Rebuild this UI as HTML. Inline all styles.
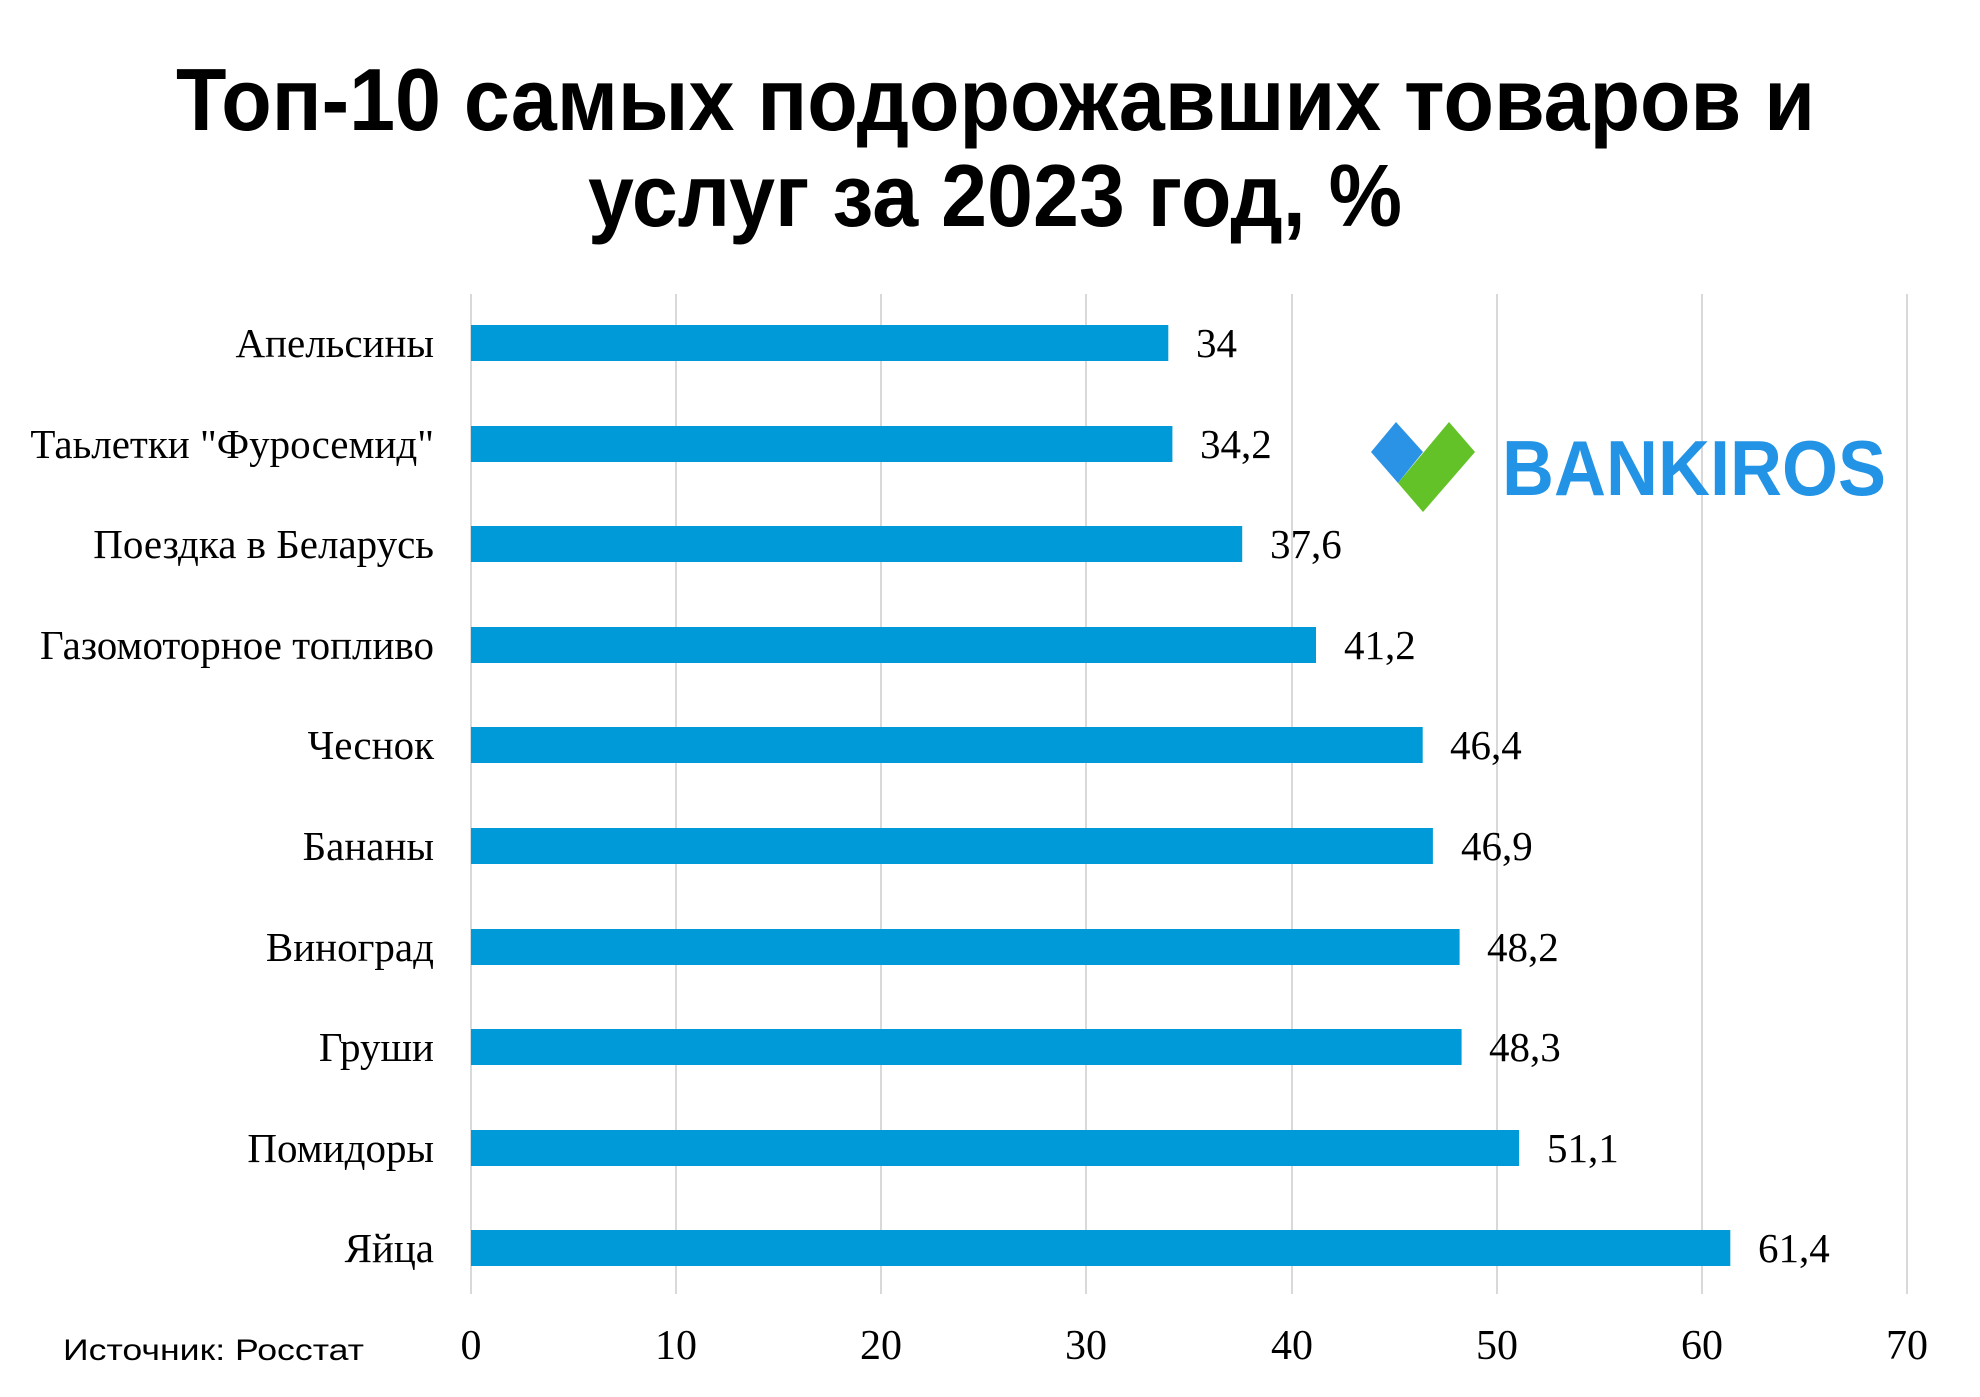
<!DOCTYPE html>
<html><head><meta charset="utf-8"><style>html,body{margin:0;padding:0;background:#fff}svg{display:block}</style></head>
<body>
<svg width="1980" height="1397" viewBox="0 0 1980 1397" xmlns="http://www.w3.org/2000/svg">
<rect width="1980" height="1397" fill="#fff"/>
<g font-family="Liberation Sans, sans-serif" font-weight="bold" font-size="88" fill="#000">
<text x="176" y="130" textLength="1639" lengthAdjust="spacingAndGlyphs">Топ-10 самых подорожавших товаров и</text>
<text x="588" y="226" textLength="814" lengthAdjust="spacingAndGlyphs">услуг за 2023 год, %</text>
</g>
<g stroke="#d9d9d9" stroke-width="2">
<line x1="471" y1="294" x2="471" y2="1294"/><line x1="676" y1="294" x2="676" y2="1294"/><line x1="881" y1="294" x2="881" y2="1294"/><line x1="1086" y1="294" x2="1086" y2="1294"/><line x1="1292" y1="294" x2="1292" y2="1294"/><line x1="1497" y1="294" x2="1497" y2="1294"/><line x1="1702" y1="294" x2="1702" y2="1294"/><line x1="1907" y1="294" x2="1907" y2="1294"/>
</g>
<g fill="#009ad8">
<rect x="471" y="325" width="697.3" height="36"/>
<rect x="471" y="426" width="701.4" height="36"/>
<rect x="471" y="526" width="771.2" height="36"/>
<rect x="471" y="627" width="845.0" height="36"/>
<rect x="471" y="727" width="951.7" height="36"/>
<rect x="471" y="828" width="961.9" height="36"/>
<rect x="471" y="929" width="988.6" height="36"/>
<rect x="471" y="1029" width="990.6" height="36"/>
<rect x="471" y="1130" width="1048.1" height="36"/>
<rect x="471" y="1230" width="1259.3" height="36"/>
</g>
<g font-family="Liberation Serif, serif" font-size="41" fill="#000" text-anchor="end">
<text x="434" y="357">Апельсины</text>
<text x="434" y="458">Таьлетки "Фуросемид"</text>
<text x="434" y="558">Поездка в Беларусь</text>
<text x="434" y="659">Газомоторное топливо</text>
<text x="434" y="759">Чеснок</text>
<text x="434" y="860">Бананы</text>
<text x="434" y="961">Виноград</text>
<text x="434" y="1061">Груши</text>
<text x="434" y="1162">Помидоры</text>
<text x="434" y="1262">Яйца</text>
</g>
<g font-family="Liberation Serif, serif" font-size="41" fill="#000">
<text x="1196" y="357">34</text>
<text x="1200" y="458">34,2</text>
<text x="1270" y="558">37,6</text>
<text x="1344" y="659">41,2</text>
<text x="1450" y="759">46,4</text>
<text x="1461" y="860">46,9</text>
<text x="1487" y="961">48,2</text>
<text x="1489" y="1061">48,3</text>
<text x="1547" y="1162">51,1</text>
<text x="1758" y="1262">61,4</text>
</g>
<g font-family="Liberation Serif, serif" font-size="42" fill="#000" text-anchor="middle">
<text x="471" y="1359">0</text><text x="676" y="1359">10</text><text x="881" y="1359">20</text><text x="1086" y="1359">30</text><text x="1292" y="1359">40</text><text x="1497" y="1359">50</text><text x="1702" y="1359">60</text><text x="1907" y="1359">70</text>
</g>
<text x="63" y="1360" font-family="Liberation Sans, sans-serif" font-size="30" fill="#000" textLength="301" lengthAdjust="spacingAndGlyphs">Источник: Росстат</text>
<polygon points="1371,452 1396,422 1423,452 1398,483" fill="#2a93e6"/>
<polygon points="1449,422 1475,452 1423,512 1398,483" fill="#62c227"/>
<text x="1502" y="495" font-family="Liberation Sans, sans-serif" font-weight="bold" font-size="78" fill="#2393e6" textLength="384" lengthAdjust="spacingAndGlyphs">BANKIROS</text>
</svg>
</body></html>
